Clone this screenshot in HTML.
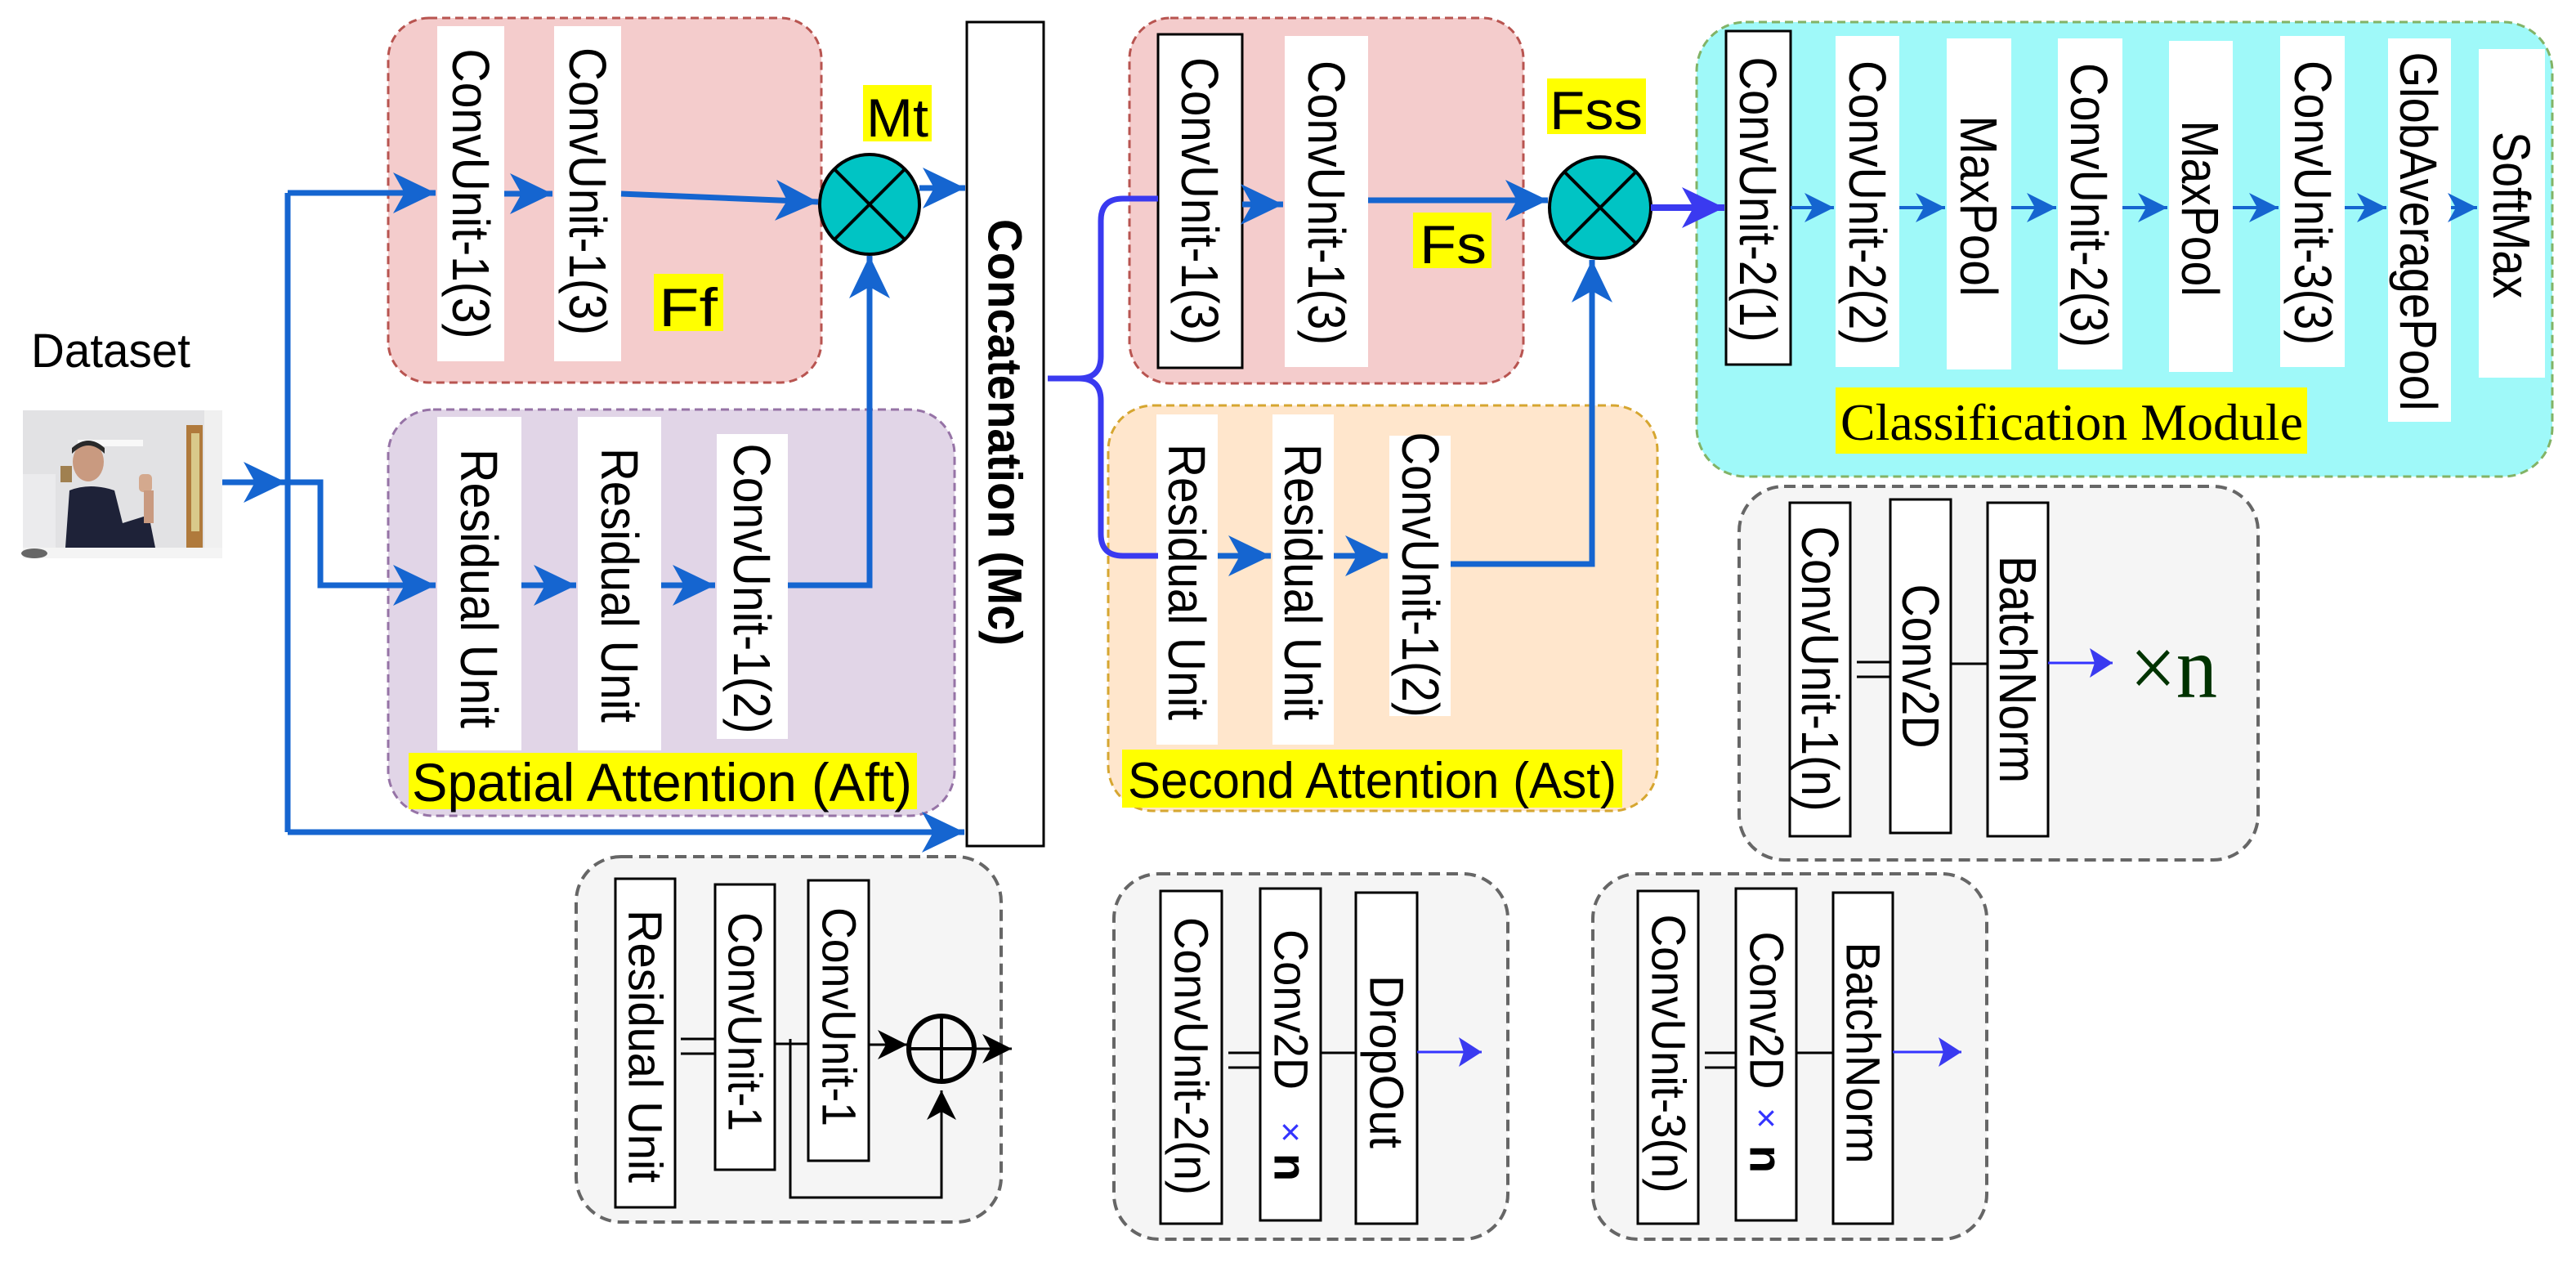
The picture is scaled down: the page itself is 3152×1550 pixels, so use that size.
<!DOCTYPE html>
<html><head><meta charset="utf-8"><style>
html,body{margin:0;padding:0;background:#fff;}
svg{display:block;}
text{font-family:"Liberation Sans",Arial,sans-serif;}
</style></head><body>
<svg width="3152" height="1550" viewBox="0 0 3152 1550" xmlns="http://www.w3.org/2000/svg">
<defs>
<marker id="ab" markerUnits="userSpaceOnUse" markerWidth="60" markerHeight="60" refX="52" refY="25" orient="auto" viewBox="0 0 60 50">
<path d="M0,0 L52,25 L0,50 L14,25 z" fill="#1565d0"/></marker>
<marker id="ap" markerUnits="userSpaceOnUse" markerWidth="60" markerHeight="60" refX="52" refY="25" orient="auto" viewBox="0 0 60 50">
<path d="M0,0 L52,25 L0,50 L14,25 z" fill="#3a3af0"/></marker>
<marker id="as" markerUnits="userSpaceOnUse" markerWidth="40" markerHeight="40" refX="36" refY="18" orient="auto" viewBox="0 0 40 36">
<path d="M0,0 L36,18 L0,36 L10,18 z" fill="#1565d0"/></marker>
<marker id="asp" markerUnits="userSpaceOnUse" markerWidth="40" markerHeight="40" refX="28" refY="18" orient="auto" viewBox="0 0 40 36">
<path d="M0,0 L28,18 L0,36 L6,18 z" fill="#3a3af0"/></marker>
<marker id="ak" markerUnits="userSpaceOnUse" markerWidth="40" markerHeight="40" refX="36" refY="18" orient="auto" viewBox="0 0 40 36">
<path d="M0,0 L36,18 L0,36 L10,18 z" fill="#000"/></marker>
</defs>

<rect x="475" y="22" width="530" height="446" rx="50" fill="#f4cccc" stroke="#b85450" stroke-width="3" stroke-dasharray="10,6"/>
<rect x="475" y="501" width="693" height="497" rx="55" fill="#e1d5e7" stroke="#9673a6" stroke-width="3" stroke-dasharray="10,6"/>
<rect x="1382" y="22" width="482" height="447" rx="50" fill="#f4cccc" stroke="#b85450" stroke-width="3" stroke-dasharray="10,6"/>
<rect x="1356" y="496" width="672" height="496" rx="55" fill="#ffe6cc" stroke="#d6a630" stroke-width="3" stroke-dasharray="10,6"/>
<rect x="2076" y="27" width="1047" height="556" rx="60" fill="#9ff9f9" stroke="#82b366" stroke-width="3" stroke-dasharray="10,6"/>
<rect x="2128" y="595" width="635" height="457" rx="55" fill="#f5f5f5" stroke="#666" stroke-width="4" stroke-dasharray="14,8"/>
<rect x="705" y="1048" width="520" height="447" rx="55" fill="#f5f5f5" stroke="#666" stroke-width="4" stroke-dasharray="14,8"/>
<rect x="1363" y="1069" width="482" height="447" rx="55" fill="#f5f5f5" stroke="#666" stroke-width="4" stroke-dasharray="14,8"/>
<rect x="1949" y="1069" width="482" height="447" rx="55" fill="#f5f5f5" stroke="#666" stroke-width="4" stroke-dasharray="14,8"/>

<g fill="#fff">
<rect x="535" y="32" width="82" height="410"/>
<rect x="678" y="32" width="82" height="410"/>
<rect x="535" y="510" width="103" height="408"/>
<rect x="707" y="510" width="102" height="408"/>
<rect x="877" y="531" width="87" height="373"/>
<rect x="1572" y="44" width="102" height="405"/>
<rect x="1415" y="507" width="75" height="404"/>
<rect x="1557" y="507" width="75" height="404"/>
<rect x="1700" y="533" width="75" height="343"/>
<rect x="2246" y="44" width="78" height="405"/>
<rect x="2382" y="47" width="79" height="405"/>
<rect x="2518" y="47" width="79" height="405"/>
<rect x="2654" y="50" width="78" height="405"/>
<rect x="2790" y="44" width="79" height="405"/>
<rect x="2922" y="47" width="77" height="469"/>
<rect x="3033" y="60" width="81" height="402"/>
</g>
<g fill="#fff" stroke="#000" stroke-width="3">
<rect x="1417" y="42" width="103" height="408"/>
<rect x="2112" y="38" width="79" height="408"/>
<rect x="1183" y="27" width="94" height="1008"/>
<rect x="2190" y="615" width="74" height="408"/>
<rect x="2313" y="611" width="74" height="408"/>
<rect x="2432" y="615" width="74" height="408"/>
<rect x="753" y="1075" width="73" height="402"/>
<rect x="875" y="1082" width="73" height="349"/>
<rect x="989" y="1077" width="74" height="343"/>
<rect x="1420" y="1090" width="75" height="407"/>
<rect x="1542" y="1087" width="74" height="406"/>
<rect x="1659" y="1092" width="75" height="405"/>
<rect x="2004" y="1090" width="74" height="407"/>
<rect x="2124" y="1087" width="74" height="406"/>
<rect x="2243" y="1092" width="73" height="405"/>
</g>

<g fill="#ffff00">
<rect x="1056" y="104" width="84" height="69"/>
<rect x="800" y="335" width="85" height="70"/>
<rect x="1729" y="260" width="96" height="68"/>
<rect x="1893" y="96" width="121" height="68"/>
<rect x="500" y="921" width="622" height="69"/>
<rect x="1373" y="917" width="612" height="71"/>
<rect x="2246" y="474" width="577" height="81"/>
</g>
<g font-size="66" fill="#000">
<text x="1060" y="167" textLength="76" lengthAdjust="spacingAndGlyphs">Mt</text>
<text x="806" y="399" textLength="72" lengthAdjust="spacingAndGlyphs">Ff</text>
<text x="1737" y="322" textLength="82" lengthAdjust="spacingAndGlyphs">Fs</text>
<text x="1896" y="158" textLength="114" lengthAdjust="spacingAndGlyphs">Fss</text>
<text x="504" y="980" textLength="612" lengthAdjust="spacingAndGlyphs" font-size="66">Spatial Attention (Aft)</text>
<text x="1380" y="976" textLength="598" lengthAdjust="spacingAndGlyphs" font-size="62">Second Attention (Ast)</text>
<text x="38" y="449" textLength="195" lengthAdjust="spacingAndGlyphs" font-size="58">Dataset</text>
</g>
<text x="2252" y="538" textLength="566" lengthAdjust="spacingAndGlyphs" font-size="64" style="font-family:'Liberation Serif',serif">Classification Module</text>
<text x="2606" y="853" textLength="107" lengthAdjust="spacingAndGlyphs" font-size="108" fill="#003300" style="font-family:'Liberation Serif',serif">×n</text>

<g font-size="64" fill="#000" text-anchor="middle" dominant-baseline="central">
<text transform="translate(576,237) rotate(90)" textLength="355" lengthAdjust="spacingAndGlyphs">ConvUnit-1(3)</text>
<text transform="translate(719,234) rotate(90)" textLength="352" lengthAdjust="spacingAndGlyphs">ConvUnit-1(3)</text>
<text transform="translate(586,720) rotate(90)" textLength="342" lengthAdjust="spacingAndGlyphs">Residual Unit</text>
<text transform="translate(758,716) rotate(90)" textLength="336" lengthAdjust="spacingAndGlyphs">Residual Unit</text>
<text transform="translate(920,720) rotate(90)" textLength="355" lengthAdjust="spacingAndGlyphs">ConvUnit-1(2)</text>
<text transform="translate(1229,529) rotate(90)" textLength="522" lengthAdjust="spacingAndGlyphs" font-weight="bold" font-size="58">Concatenation (Mc)</text>
<text transform="translate(1468,246) rotate(90)" textLength="352" lengthAdjust="spacingAndGlyphs">ConvUnit-1(3)</text>
<text transform="translate(1623,248) rotate(90)" textLength="348" lengthAdjust="spacingAndGlyphs">ConvUnit-1(3)</text>
<text transform="translate(1452,712) rotate(90)" textLength="338" lengthAdjust="spacingAndGlyphs">Residual Unit</text>
<text transform="translate(1594,712) rotate(90)" textLength="338" lengthAdjust="spacingAndGlyphs">Residual Unit</text>
<text transform="translate(1738,703) rotate(90)" textLength="349" lengthAdjust="spacingAndGlyphs">ConvUnit-1(2)</text>
<text transform="translate(2151,244) rotate(90)" textLength="349" lengthAdjust="spacingAndGlyphs">ConvUnit-2(1)</text>
<text transform="translate(2285,248) rotate(90)" textLength="348" lengthAdjust="spacingAndGlyphs">ConvUnit-2(2)</text>
<text transform="translate(2421,252) rotate(90)" textLength="221" lengthAdjust="spacingAndGlyphs">MaxPool</text>
<text transform="translate(2556,251) rotate(90)" textLength="348" lengthAdjust="spacingAndGlyphs">ConvUnit-2(3)</text>
<text transform="translate(2692,255) rotate(90)" textLength="215" lengthAdjust="spacingAndGlyphs">MaxPool</text>
<text transform="translate(2830,248) rotate(90)" textLength="348" lengthAdjust="spacingAndGlyphs">ConvUnit-3(3)</text>
<text transform="translate(2959,283) rotate(90)" textLength="439" lengthAdjust="spacingAndGlyphs">GlobAveragePool</text>
<text transform="translate(3073,263) rotate(90)" textLength="204" lengthAdjust="spacingAndGlyphs">SoftMax</text>
<text transform="translate(2227,818) rotate(90)" textLength="349" lengthAdjust="spacingAndGlyphs">ConvUnit-1(n)</text>
<text transform="translate(2350,815) rotate(90)" textLength="201" lengthAdjust="spacingAndGlyphs">Conv2D</text>
<text transform="translate(2469,819) rotate(90)" textLength="278" lengthAdjust="spacingAndGlyphs">BatchNorm</text>
<g font-size="58">
<text transform="translate(789,1280) rotate(90)" textLength="334" lengthAdjust="spacingAndGlyphs">Residual Unit</text>
<text transform="translate(911,1250) rotate(90)" textLength="268" lengthAdjust="spacingAndGlyphs">ConvUnit-1</text>
<text transform="translate(1026,1244) rotate(90)" textLength="268" lengthAdjust="spacingAndGlyphs">ConvUnit-1</text>
<text transform="translate(1457,1292) rotate(90)" textLength="340" lengthAdjust="spacingAndGlyphs">ConvUnit-2(n)</text>
<text transform="translate(1579,1235) rotate(90)" textLength="196" lengthAdjust="spacingAndGlyphs">Conv2D</text>
<text transform="translate(1696,1299) rotate(90)" textLength="212" lengthAdjust="spacingAndGlyphs">DropOut</text>
<text transform="translate(2041,1289) rotate(90)" textLength="341" lengthAdjust="spacingAndGlyphs">ConvUnit-3(n)</text>
<text transform="translate(2161,1236) rotate(90)" textLength="193" lengthAdjust="spacingAndGlyphs">Conv2D</text>
<text transform="translate(2279,1288) rotate(90)" textLength="271" lengthAdjust="spacingAndGlyphs">BatchNorm</text>
<text transform="translate(1579,1385) rotate(90)" fill="#3333ff" font-size="44">×</text>
<text transform="translate(1579,1428) rotate(90)" font-weight="bold" font-size="56">n</text>
<text transform="translate(2161,1368) rotate(90)" fill="#3333ff" font-size="44">×</text>
<text transform="translate(2161,1418) rotate(90)" font-weight="bold" font-size="56">n</text>
</g>
</g>

<g>
<rect x="28" y="502" width="244" height="181" fill="#e2e2e4"/>
<rect x="95" y="538" width="80" height="8" fill="#f8f8f8"/>
<rect x="28" y="580" width="40" height="90" fill="#ebebed"/>
<rect x="228" y="520" width="20" height="160" fill="#b07a3c"/>
<rect x="234" y="530" width="10" height="120" fill="#d9c98a"/>
<rect x="250" y="502" width="22" height="181" fill="#f0f0f0"/>
<rect x="28" y="670" width="244" height="13" fill="#f4f4f4"/>
<ellipse cx="42" cy="677" rx="16" ry="6" fill="#666"/>
<path d="M85,600 Q110,590 140,600 L150,640 L182,630 L190,670 L80,670 Z" fill="#1e2238"/>
<ellipse cx="108" cy="565" rx="19" ry="24" fill="#c99a80"/>
<path d="M88,555 Q108,535 128,555 L128,548 Q108,530 88,548Z" fill="#2a2a2a"/>
<rect x="170" y="580" width="16" height="22" rx="5" fill="#d4a98e"/>
<rect x="176" y="600" width="12" height="40" fill="#c99a80"/>
<rect x="74" y="570" width="14" height="20" fill="#a08050"/>
</g>

<ellipse cx="1064" cy="250" rx="61" ry="61" fill="#00c4c4" stroke="#000" stroke-width="4"/>
<path d="M1021,207 L1107,293 M1107,207 L1021,293" stroke="#000" stroke-width="4"/>
<ellipse cx="1958" cy="254" rx="62" ry="62" fill="#00c4c4" stroke="#000" stroke-width="4"/>
<path d="M1914,210 L2002,298 M2002,210 L1914,298" stroke="#000" stroke-width="4"/>

<g fill="none" stroke="#1565d0" stroke-width="7">
<path d="M272,590 L350,590" marker-end="url(#ab)"/>
<path d="M352,236 L352,1018"/>
<path d="M352,236 L533,236" marker-end="url(#ab)"/>
<path d="M352,590 L392,590 L392,716 L533,716" marker-end="url(#ab)"/>
<path d="M352,1018 L1180,1018" marker-end="url(#ab)"/>
<path d="M617,237 L676,237" marker-end="url(#ab)"/>
<path d="M760,237 L1001,247" marker-end="url(#ab)"/>
<path d="M638,716 L705,716" marker-end="url(#ab)"/>
<path d="M809,716 L875,716" marker-end="url(#ab)"/>
<path d="M964,716 L1064,716 L1064,313" marker-end="url(#ab)"/>
<path d="M1125,230 L1181,230" marker-end="url(#ab)"/>
<path d="M1520,250 L1570,250" marker-end="url(#ab)"/>
<path d="M1674,245 L1894,245" marker-end="url(#ab)"/>
<path d="M1490,680 L1555,680" marker-end="url(#ab)"/>
<path d="M1632,680 L1698,680" marker-end="url(#ab)"/>
<path d="M1775,690 L1948,690 L1948,318" marker-end="url(#ab)"/>
</g>
<path d="M2020,254 L2110,254" fill="none" stroke="#3a3af0" stroke-width="8" marker-end="url(#ap)"/>
<path d="M1282,463 L1320,463 Q1347,463 1347,436 L1347,270 Q1347,243 1374,243 L1417,243 M1320,463 Q1347,463 1347,490 L1347,653 Q1347,680 1374,680 L1417,680" fill="none" stroke="#3a3af0" stroke-width="7"/>
<g fill="none" stroke="#1565d0" stroke-width="4">
<path d="M2191,254 L2244,254" marker-end="url(#as)"/>
<path d="M2324,254 L2380,254" marker-end="url(#as)"/>
<path d="M2461,254 L2516,254" marker-end="url(#as)"/>
<path d="M2597,254 L2652,254" marker-end="url(#as)"/>
<path d="M2732,254 L2788,254" marker-end="url(#as)"/>
<path d="M2869,254 L2920,254" marker-end="url(#as)"/>
<path d="M2999,254 L3031,254" marker-end="url(#as)"/>
</g>

<g stroke="#000" stroke-width="3" fill="none">
<path d="M2272,810 L2313,810 M2272,828 L2313,828"/>
<path d="M2387,812 L2432,812"/>
<path d="M833,1271 L875,1271 M833,1289 L875,1289"/>
<path d="M948,1277 L989,1277"/>
<path d="M967,1271 L967,1465 L1152,1465 L1152,1334" marker-end="url(#ak)"/>
<path d="M1063,1278 L1110,1278" marker-end="url(#ak)"/>
<path d="M1194,1283 L1238,1283" marker-end="url(#ak)"/>
<path d="M1503,1288 L1542,1288 M1503,1306 L1542,1306"/>
<path d="M1616,1288 L1659,1288"/>
<path d="M2086,1288 L2124,1288 M2086,1306 L2124,1306"/>
<path d="M2198,1288 L2243,1288"/>
</g>
<circle cx="1152" cy="1283" r="40" fill="none" stroke="#000" stroke-width="6"/>
<path d="M1112,1283 L1192,1283 M1152,1243 L1152,1323" stroke="#000" stroke-width="4"/>
<g stroke="#3333ff" stroke-width="3" fill="none">
<path d="M2506,811 L2585,811" marker-end="url(#asp)"/>
<path d="M1734,1287 L1813,1287" marker-end="url(#asp)"/>
<path d="M2316,1287 L2400,1287" marker-end="url(#asp)"/>
</g>
</svg>
</body></html>
